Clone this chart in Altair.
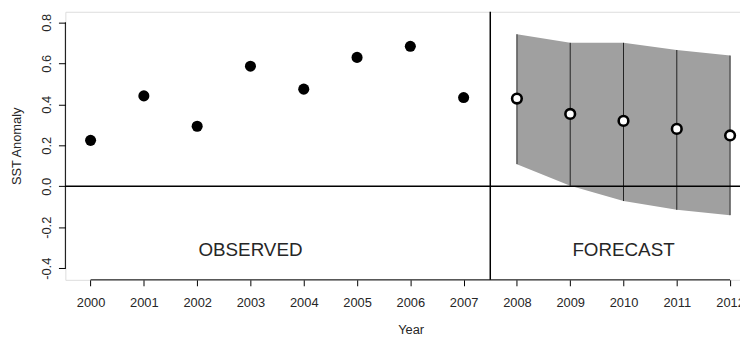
import altair as alt
import pandas as pd

# ---- data ----
obs_years = [2000, 2001, 2002, 2003, 2004, 2005, 2006, 2007]
obs_values = [0.224, 0.441, 0.293, 0.586, 0.474, 0.629, 0.683, 0.433]

fc_years = [2008, 2009, 2010, 2011, 2012]
fc_values = [0.428, 0.353, 0.319, 0.280, 0.248]
fc_lower = [0.108, 0.002, -0.072, -0.115, -0.141]
fc_upper = [0.742, 0.700, 0.700, 0.665, 0.638]

x_ticks = list(range(2000, 2013))
y_ticks = [-0.4, -0.2, 0.0, 0.2, 0.4, 0.6, 0.8]
split_year = [2007.5]
zero_line = [0.0]

panel_labels = ["OBSERVED", "FORECAST"]
panel_label_x = [2003, 2010]
panel_label_y = [-0.31, -0.31]

# ---- tables ----
obs = pd.DataFrame({"year": obs_years, "value": obs_values})
fc = pd.DataFrame({"year": fc_years, "value": fc_values,
                   "lower": fc_lower, "upper": fc_upper})
labels = pd.DataFrame({"text": panel_labels, "year": panel_label_x, "value": panel_label_y})
xaxis_df = pd.DataFrame({"x1": [x_ticks[0]], "x2": [x_ticks[-1]]})
yaxis_df = pd.DataFrame({"y1": [y_ticks[0]], "y2": [y_ticks[-1]]})
split_df = pd.DataFrame({"year": split_year})
zero_df = pd.DataFrame({"value": zero_line})

W, H = 682, 271
FONT = "Liberation Sans"
TXT = "#262626"

xs = alt.Scale(domain=[1999.527, 2012.186], nice=False, zero=False)
ys = alt.Scale(domain=[-0.4566, 0.8515], nice=False, zero=False)

x_axis = alt.Axis(values=x_ticks, format="d", domain=False, grid=False,
                  tickSize=6, tickColor="black", tickWidth=1,
                  labelPadding=11, labelFontSize=13, labelFont=FONT,
                  labelColor=TXT, labelFlush=False, labelOverlap=False,
                  title="Year", titleFont=FONT, titleFontSize=13,
                  titleFontWeight="normal", titleColor=TXT,
                  titleX=349, titleY=50, titleBaseline="middle",
                  titleAlign="center")
y_axis = alt.Axis(values=y_ticks, domain=False, grid=False,
                  labelExpr="datum.value < 0 ? '-' + format(-datum.value, '.1f') : format(datum.value, '.1f')",
                  tickSize=7, tickColor="black", tickWidth=1,
                  labelAngle=270, labelAlign="center", labelBaseline="bottom",
                  labelPadding=5, labelFontSize=13, labelFont=FONT,
                  labelColor=TXT, labelFlush=False, labelOverlap=False,
                  title="SST Anomaly", titleFont=FONT, titleFontSize=13,
                  titleFontWeight="normal", titleColor=TXT,
                  titleAngle=270, titleX=-49, titleY=135.5,
                  titleBaseline="middle", titleAlign="center")

band = alt.Chart(fc).mark_area(color="#a0a0a0", opacity=1).encode(
    x=alt.X("year:Q", scale=xs, axis=x_axis),
    y=alt.Y("lower:Q", scale=ys, axis=y_axis),
    y2="upper:Q",
)

vlines = alt.Chart(fc).mark_rule(color="#222222", strokeWidth=1).encode(
    x=alt.X("year:Q", scale=xs),
    y=alt.Y("lower:Q", scale=ys),
    y2="upper:Q",
)

zero = alt.Chart(zero_df).mark_rule(color="black", strokeWidth=1.5).encode(
    y=alt.Y("value:Q", scale=ys),
    x=alt.value(0), x2=alt.value(W),
)

split = alt.Chart(split_df).mark_rule(color="black", strokeWidth=1.5).encode(
    x=alt.X("year:Q", scale=xs),
    y=alt.value(0), y2=alt.value(H),
)

xline = alt.Chart(xaxis_df).mark_rule(color="black", strokeWidth=1).encode(
    x=alt.X("x1:Q", scale=xs), x2="x2:Q", y=alt.value(H),
)
yline = alt.Chart(yaxis_df).mark_rule(color="black", strokeWidth=1).encode(
    y=alt.Y("y1:Q", scale=ys), y2="y2:Q", x=alt.value(0),
)

obs_pts = alt.Chart(obs).mark_circle(color="black", size=125, opacity=1).encode(
    x=alt.X("year:Q", scale=xs),
    y=alt.Y("value:Q", scale=ys),
)

fc_pts = alt.Chart(fc).mark_point(shape="circle", filled=True, fill="white",
                                  stroke="black", strokeWidth=2.6, size=95,
                                  opacity=1).encode(
    x=alt.X("year:Q", scale=xs),
    y=alt.Y("value:Q", scale=ys),
)

txt = alt.Chart(labels).mark_text(font=FONT, fontSize=19, color=TXT,
                                  align="center", baseline="middle").encode(
    x=alt.X("year:Q", scale=xs),
    y=alt.Y("value:Q", scale=ys),
    text="text:N",
)

chart = alt.layer(band, vlines, zero, split, xline, yline, obs_pts, fc_pts, txt).properties(
    width=W, height=H,
    autosize=alt.AutoSizeParams(type="none"),
    padding={"left": 58, "top": 2, "right": 0, "bottom": 60},
).configure_view(stroke=None).configure(background="white")

chart.save("out.html", embed_options={"renderer": "svg", "actions": False})
